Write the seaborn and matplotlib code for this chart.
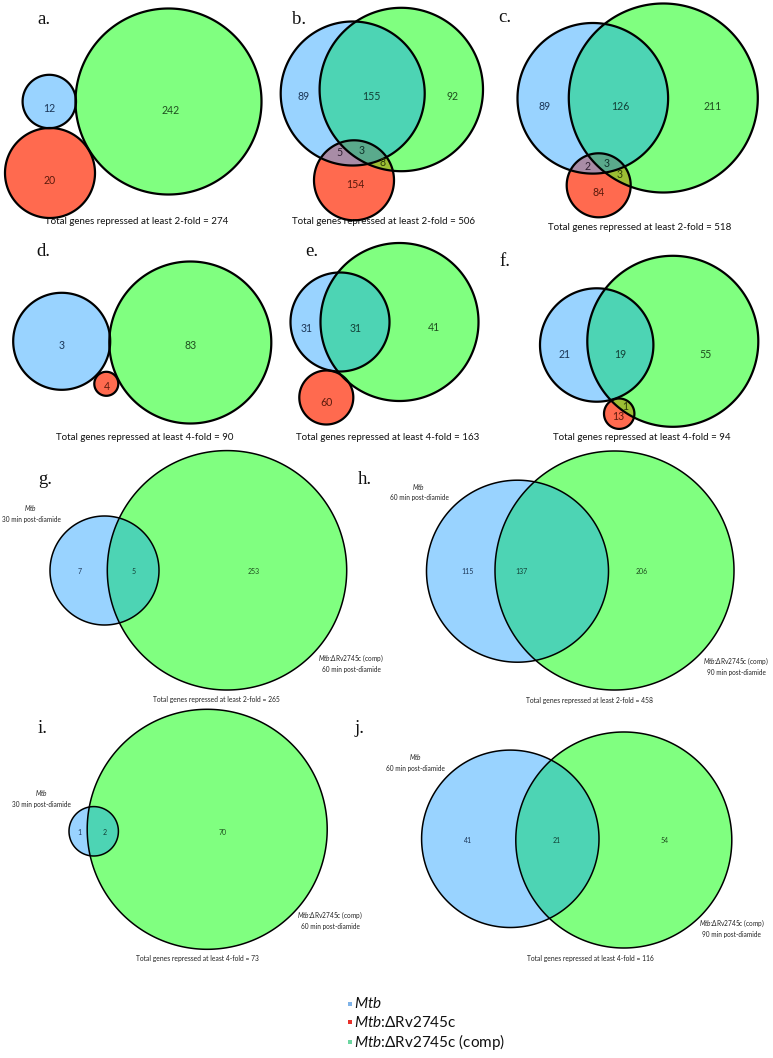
import numpy as np
import matplotlib
matplotlib.use("Agg")
import matplotlib.pyplot as plt
import seaborn as sns
from matplotlib.patches import Polygon, Rectangle

# ---------------- DATA ----------------
letters = ["a.", "b.", "c.", "d.", "e.", "f.", "g.", "h.", "i.", "j."]
# three-set panels: region counts
# order: only Mtb, only deletion, only comp, Mtb&del, Mtb&comp, del&comp, all three
three_counts = {
    "a": [12, 20, 242, 0, 0, 0, 0],
    "b": [89, 154, 92, 5, 155, 8, 3],
    "c": [89, 84, 211, 2, 126, 3, 3],
    "d": [3, 4, 83, 0, 0, 0, 0],
    "e": [31, 60, 41, 0, 31, 0, 0],
    "f": [21, 13, 55, 0, 19, 1, 0],
}
three_fold = {"a": 2, "b": 2, "c": 2, "d": 4, "e": 4, "f": 4}
three_total = {"a": 274, "b": 506, "c": 518, "d": 90, "e": 163, "f": 94}
# two-set panels: only Mtb, overlap, only comp
two_counts = {"g": [7, 5, 253], "h": [115, 137, 206], "i": [1, 2, 70], "j": [41, 21, 54]}
two_fold = {"g": 2, "h": 2, "i": 4, "j": 4}
two_total = {"g": 265, "h": 458, "i": 73, "j": 116}
two_time_mtb = {"g": 30, "h": 60, "i": 30, "j": 60}
two_time_comp = {"g": 60, "h": 90, "i": 60, "j": 90}
legend_labels = [r"$\it{Mtb}$", r"$\it{Mtb}$:ΔRv2745c", r"$\it{Mtb}$:ΔRv2745c (comp)"]

# ---------------- LAYOUT (pixel space) ----------------
geo3 = {  # (cx, cy, r) for Mtb, deletion, comp
    "a": [(49.3, 101.5, 26.7), (50, 173, 45), (168.5, 101.5, 93)],
    "b": [(352.7, 93.5, 72), (354, 180.3, 40), (401.3, 89.5, 81.7)],
    "c": [(592.8, 98.3, 75.3), (598.7, 185.3, 32), (663.3, 98, 94.5)],
    "d": [(61.7, 341.3, 48.5), (106.3, 383.8, 12), (190.3, 342.5, 81)],
    "e": [(340, 322, 49.5), (326.3, 397.5, 27), (399.5, 322, 79)],
    "f": [(596.7, 345, 56.7), (619.2, 413.7, 15.2), (672.8, 341.3, 85.5)],
}
lab3 = {
    "a": [(49, 108), (50, 180), (171, 111), None, None, None, None],
    "b": [(304, 97), (355, 185), (452.7, 96), (339.3, 153), (371.7, 97), (382.7, 163), (361.7, 150)],
    "c": [(544.3, 106.7), (599, 193), (712.3, 106.7), (587.3, 166.7), (620, 106.7), (620, 175), (606.7, 163.3)],
    "d": [(61.7, 345.7), (106.7, 386.7), (190.7, 345.7), None, None, None, None],
    "e": [(306.7, 328.3), (326.7, 402.7), (434, 327.7), None, (356, 328.3), None, None],
    "f": [(564.3, 354), (618.3, 416.7), (705.7, 354), None, (620, 354), (625.7, 406.7), None],
}
tot3 = {"a": (137, 222), "b": (383, 222), "c": (640, 228), "d": (145, 438), "e": (387.5, 438), "f": (641.7, 438)}
let_pos = {"a": (44, 20), "b": (299, 20), "c": (505, 17), "d": (43.3, 251), "e": (311.7, 251), "f": (505, 262),
           "g": (45, 480), "h": (365, 480), "i": (42.7, 728.3), "j": (360, 728.3)}

geo2 = {
    "g": [(104.5, 570.5, 54.5), (227, 570.3, 119.7)],
    "h": [(517.5, 571.2, 91), (614.5, 570.5, 119.5)],
    "i": [(93.7, 831.3, 24.7), (207.2, 829.3, 120)],
    "j": [(510.3, 838.8, 88.7), (623.8, 840, 108)],
}
lab2 = {
    "g": [(80, 571.7), (133.3, 571.7), (253.3, 571.7)],
    "h": [(467.3, 571.7), (521, 571.7), (641.7, 571.7)],
    "i": [(79, 832.7), (104.3, 832.7), (222.3, 832.7)],
    "j": [(468.3, 840.7), (556.7, 840.7), (665, 840.7)],
}
setlab_mtb = {"g": (31, 513), "h": (419, 491.5), "i": (41.5, 798), "j": (415.5, 762)}
setlab_comp = {"g": (351, 659), "h": (736, 661.5), "i": (330, 916), "j": (731.7, 924.3)}
tot2 = {"g": (216.7, 699.3), "h": (589.3, 700.7), "i": (197.3, 959), "j": (590, 959)}

BLUE, RED, GREEN = "#99D3FF", "#FF6A4F", "#80FF80"
TEAL, PURPLE, OLIVE, TRIPLE = "#4DD4B4", "#A88CA6", "#9CBE34", "#5AAA8C"
TXT_BLUE, TXT_RED, TXT_GREEN, TXT_TEAL = "#1B3556", "#5A1A0C", "#1E4E1E", "#123F36"

sns.set_theme(style="white")
plt.rcParams["font.family"] = ["Lato", "DejaVu Sans"]
plt.rcParams["mathtext.fontset"] = "custom"
plt.rcParams["mathtext.rm"] = "Lato"
plt.rcParams["mathtext.it"] = "Lato:italic"

fig = plt.figure(figsize=(7.73, 10.58), dpi=100)
ax = fig.add_axes([0, 0, 1, 1])
ax.set_xlim(0, 773)
ax.set_ylim(1058, 0)
ax.axis("off")


def circ(c, n=720):
    cx, cy, r = c
    t = np.linspace(0, 2 * np.pi, n, endpoint=False)
    return np.column_stack([cx + r * np.cos(t), cy + r * np.sin(t)])


def clip(subject, clipper):
    """Sutherland-Hodgman clipping of polygon by convex polygon (CCW)."""
    out = list(subject)
    m = len(clipper)
    for i in range(m):
        a, b = clipper[i], clipper[(i + 1) % m]
        inp = out
        out = []
        if not inp:
            break

        def inside(p):
            return (b[0] - a[0]) * (p[1] - a[1]) - (b[1] - a[1]) * (p[0] - a[0]) >= 0

        def inter(p, q):
            d1 = np.array(q) - np.array(p)
            d2 = b - a
            den = d1[0] * d2[1] - d1[1] * d2[0]
            if den == 0:
                return p
            tt = ((a[0] - p[0]) * d2[1] - (a[1] - p[1]) * d2[0]) / den
            return np.array(p) + tt * d1

        s = inp[-1]
        for e in inp:
            if inside(e):
                if not inside(s):
                    out.append(inter(s, e))
                out.append(e)
            elif inside(s):
                out.append(inter(s, e))
            s = e
    return np.array(out)


def fill(poly, color, z):
    if len(poly) >= 3:
        ax.add_patch(Polygon(poly, closed=True, facecolor=color, edgecolor="none", zorder=z))


def outline(poly, lw):
    ax.add_patch(Polygon(poly, closed=True, facecolor="none", edgecolor="black", linewidth=lw, zorder=5))


# ---- three-set panels ----
for key, counts in three_counts.items():
    pm, pd, pc = [circ(g) for g in geo3[key]]
    fill(pm, BLUE, 1)
    fill(pc, GREEN, 1)
    fill(pd, RED, 1)
    if counts[4]:
        fill(clip(pm, pc), TEAL, 2)
    if counts[3]:
        fill(clip(pm, pd), PURPLE, 2)
    if counts[5]:
        fill(clip(pc, pd), OLIVE, 2)
    if counts[6]:
        fill(clip(clip(pm, pc), pd), TRIPLE, 3)
    for p in (pm, pd, pc):
        outline(p, 1.6)
    tcols = [TXT_BLUE, TXT_RED, TXT_GREEN, "#2E1E30", TXT_TEAL, "#2A3A08", "#0E3028"]
    for val, pos, col in zip(counts, lab3[key], tcols):
        if val and pos is not None:
            ax.text(pos[0], pos[1], str(val), ha="center", va="center", fontsize=7.6, color=col, zorder=6)
    ax.text(*tot3[key], f"Total genes repressed at least {three_fold[key]}-fold = {three_total[key]}",
            ha="center", va="center", fontsize=7, color="#111111")

# ---- two-set panels ----
for key, counts in two_counts.items():
    pm, pc = [circ(g) for g in geo2[key]]
    fill(pm, BLUE, 1)
    fill(pc, GREEN, 1)
    fill(clip(pm, pc), TEAL, 2)
    outline(pm, 1.1)
    outline(pc, 1.1)
    for val, pos, col in zip(counts, lab2[key], [TXT_BLUE, TXT_TEAL, TXT_GREEN]):
        ax.text(pos[0], pos[1], str(val), ha="center", va="center", fontsize=5, color=col, zorder=6)
    x, y = setlab_mtb[key]
    ax.text(x, y, r"$\it{Mtb}$" + f"\n{two_time_mtb[key]} min post-diamide", ha="center", va="center",
            fontsize=4.7, color="#222222", linespacing=1.35)
    x, y = setlab_comp[key]
    ax.text(x, y + 4, r"$\it{Mtb}$:ΔRv2745c (comp)" + "\n" + f"{two_time_comp[key]} min post-diamide",
            ha="center", va="center", fontsize=4.7, color="#222222", linespacing=1.35)
    ax.text(*tot2[key], f"Total genes repressed at least {two_fold[key]}-fold = {two_total[key]}",
            ha="center", va="center", fontsize=4.85, color="#222222")

# ---- panel letters ----
for lt, key in zip(letters, "abcdefghij"):
    ax.text(*let_pos[key], lt, ha="center", va="center", fontsize=13.5,
            family=["Liberation Serif", "DejaVu Serif"], color="#111111")

# ---- legend ----
leg_y = [1004, 1022.3, 1042.3]
for lab, col, y in zip(legend_labels, ["#7FB3E8", "#E8302A", "#6CD6A0"], leg_y):
    ax.add_patch(Rectangle((347.5, y - 2.5), 4.5, 4.5, facecolor=col, edgecolor="none"))
    ax.text(354, y, lab, ha="left", va="center", fontsize=11, color="#111111")

fig.savefig("out.png", dpi=100)
